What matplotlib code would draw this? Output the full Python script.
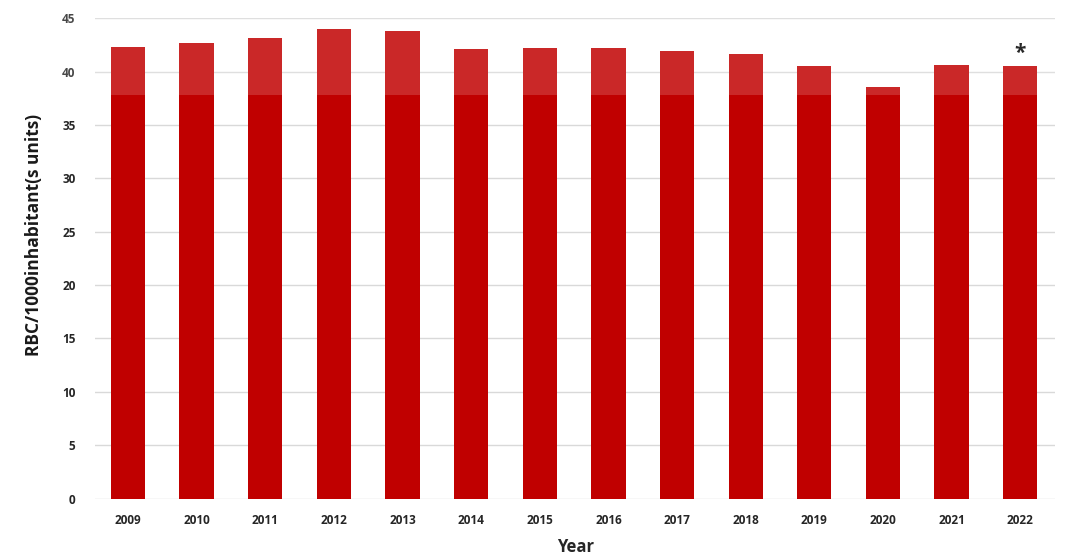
import matplotlib
matplotlib.use("Agg")
import matplotlib.pyplot as plt
from matplotlib.patches import Rectangle

# Data
years = ["2009", "2010", "2011", "2012", "2013", "2014", "2015",
         "2016", "2017", "2018", "2019", "2020", "2021", "2022"]
rbc_per_1000 = [42.3, 42.7, 43.2, 44.0, 43.8, 42.1, 42.2,
                42.2, 41.9, 41.7, 40.5, 38.6, 40.6, 40.5]
y_ticks = [0, 5, 10, 15, 20, 25, 30, 35, 40, 45]

plt.rcParams['font.family'] = ['Open Sans', 'DejaVu Sans']

fig = plt.figure(figsize=(10.68, 5.57), dpi=100)
ax = fig.add_axes([0.089, 0.105, 0.899, 0.862])

x = range(len(years))
ax.bar(x, rbc_per_1000, width=0.5, color="#C00000", zorder=3)

ax.set_xlim(-0.48, len(years) - 0.49)
ax.set_ylim(0, 45)
ax.set_yticks(y_ticks)
ax.set_xticks(list(x))
ax.set_xticklabels(years)
ax.grid(axis="y", color="#d9d9d9", linewidth=1, zorder=0)
for s in ax.spines.values():
    s.set_visible(False)
ax.tick_params(length=0, labelsize=8.5, colors="#262626")
ax.tick_params(axis="x", pad=11)
ax.tick_params(axis="y", pad=14)
for lbl in ax.get_xticklabels() + ax.get_yticklabels():
    lbl.set_fontweight("bold")

ax.set_ylabel("RBC/1000inhabitant(s units)", fontsize=12.5, fontweight="bold",
              color="#1a1a1a")
ax.yaxis.set_label_coords(-0.054, 0.55)
ax.set_xlabel("Year", fontsize=12, fontweight="bold", color="#262626", labelpad=8)

# asterisk on last year
ax.annotate("*", xy=(len(years) - 1, rbc_per_1000[-1]), xytext=(0, 2),
            textcoords="offset points", ha="center", va="bottom",
            fontsize=15, fontweight="bold", color="black")

# faint watermark band at the top of the image
fig.patches.append(Rectangle((0, 0.829), 1, 0.171, transform=fig.transFigure,
                             facecolor="white", alpha=0.16, zorder=10))

fig.savefig("out.png", dpi=100)
